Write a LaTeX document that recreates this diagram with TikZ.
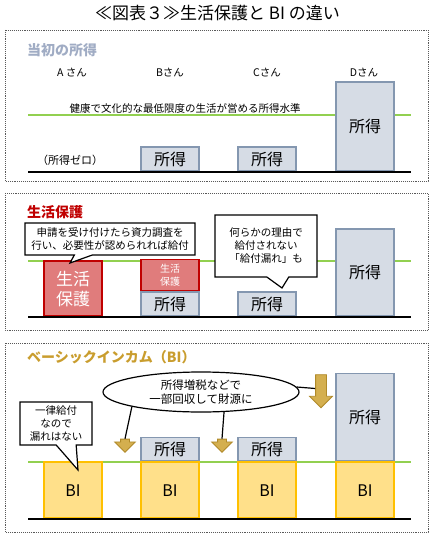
\documentclass[tikz,border=0pt]{standalone}
\usepackage{fontspec}
\setmainfont{Noto Sans CJK JP}
\usetikzlibrary{shapes.geometric, shapes.callouts, shapes.arrows}
\definecolor{incfill}{HTML}{D6DCE5}
\definecolor{incline}{HTML}{8497B0}
\definecolor{protfill}{HTML}{E07C7C}
\definecolor{protline}{HTML}{C00000}
\definecolor{bifill}{HTML}{FFE08A}
\definecolor{biline}{HTML}{FFC000}
\definecolor{level}{HTML}{92D050}
\definecolor{arrfill}{HTML}{D4AF4F}
\definecolor{arrline}{HTML}{B08A2A}
\definecolor{ttlblue}{HTML}{A0ACC4}
\definecolor{ttlgold}{HTML}{C99D2E}
\newcommand\fsz[2]{\fontsize{#1}{#2}\selectfont}

\begin{document}
\begin{tikzpicture}[x=1pt, y=-1pt,
    frame/.style={draw=black!65, densely dotted, line width=0.9pt},
    ttl/.style={anchor=west, font=\fsz{14}{16}\bfseries, inner sep=0},
    bar/.style={line width=1.6pt, minimum width=58pt, inner sep=0, anchor=south, font=\fsz{16}{18}},
    inc/.style={bar, draw=incline, fill=incfill},
    prot/.style={bar, draw=protline, fill=protfill, text=white, align=center},
    bi/.style={bar, draw=biline, fill=bifill},
    lvl/.style={level, line width=2.2pt},
    base/.style={black, line width=1.4pt},
    note/.style={rectangle callout, draw, fill=white, line width=1.2pt, inner sep=0,
                 align=center, font=\fsz{10.5}{13}},
    down/.style={single arrow, shape border rotate=270, draw=arrline, fill=arrfill,
                 line width=0.8pt, inner sep=4pt, single arrow head extend=6pt}]
  \useasboundingbox (0,0) rectangle (435,537);
  \node (title) at (217.5,13) {\fsz{17}{20}≪図表３≫生活保護と BI の違い};

  % 当初の所得
  \draw[frame] (5,30) rectangle (428,181);
  \node[ttl, text=ttlblue] (t1) at (27,50) {当初の所得};
  \node[font=\fsz{10.5}{12}] (whoa) at (72,73) {A さん};
  \node[font=\fsz{10.5}{12}] (whob) at (170,73) {Bさん};
  \node[font=\fsz{10.5}{12}] (whoc) at (267,73) {Cさん};
  \node[font=\fsz{10.5}{12}] (whod) at (364,73) {Dさん};
  \draw[lvl] (28,115) -- (411,115);
  \node[font=\fsz{10.5}{12}] (lvltext) at (185,109) {健康で文化的な最低限度の生活が営める所得水準};
  \node[inc, minimum height=24pt] (i1b) at (170,172) {所得};
  \node[inc, minimum height=24pt] (i1c) at (267,172) {所得};
  \node[inc, minimum height=89pt] (i1d) at (365,172) {所得};
  \node[font=\fsz{11}{13}] (zero) at (70,160) {（所得ゼロ）};
  \draw[base] (28,172) -- (411,172);

  % 生活保護
  \draw[frame] (5,193) rectangle (428,330);
  \node[ttl, text=protline] (t2) at (27,212) {生活保護};
  \draw[lvl] (28,261) -- (411,261);
  \node[prot, minimum height=55pt, font=\fsz{17}{20}] (p2a) at (73,317) {生活\\保護};
  \node[inc, minimum height=24pt] (i2b) at (170,317) {所得};
  \node[prot, minimum height=31pt, font=\fsz{10}{13}] (p2b) at (i2b.north) {生活\\保護};
  \node[inc, minimum height=24pt] (i2c) at (267,317) {所得};
  \node[inc, minimum height=87pt] (i2d) at (365,317) {所得};
  \draw[base] (28,317) -- (411,317);
  \node[note, minimum width=170pt, minimum height=32pt, callout absolute pointer={(70,263)},
        callout pointer width=18pt] (n1) at (110,239) {申請を受け付けたら資力調査を\\行い、必要性が認められれば給付};
  \node[note, minimum width=102pt, minimum height=62pt, callout absolute pointer={(282,288)},
        callout pointer width=22pt] (n2) at (266,246) {何らかの理由で\\給付されない\\「給付漏れ」も};

  % ベーシックインカム
  \draw[frame] (5,343) rectangle (428,532);
  \node[ttl, text=ttlgold] (t3) at (27,357) {ベーシックインカム（BI）};
  \draw[lvl] (28,462) -- (411,462);
  \foreach \x/\n in {73/a, 170/b, 267/c, 365/d}
    \node[bi, minimum height=56pt] (bi\n) at (\x,519) {BI};
  \node[inc, minimum height=23pt] (i3b) at (bib.north) {所得};
  \node[inc, minimum height=23pt] (i3c) at (bic.north) {所得};
  \node[inc, minimum height=87pt] (i3d) at (bid.north) {所得};
  \draw[base] (28,519) -- (411,519);
  \node[ellipse, draw, fill=white, line width=1.2pt, minimum width=196pt, minimum height=40pt,
        inner sep=0, align=center, font=\fsz{11.5}{14}] (ell) at (201,392) {所得増税などで\\一部回収して財源に};
  \node[down, minimum height=13pt] (a1) at (125,443.5) {};
  \node[down, minimum height=13pt] (a2) at (222,443.5) {};
  \node[down, minimum height=33pt, inner sep=5pt] (a3) at (321,388.5) {};
  \draw[line width=1.2pt] (ell.192) -- (a1.tail);
  \draw[line width=1.2pt] (ell.319) -- (a2.tail);
  \draw[line width=1.2pt] (ell.3) -- (a3.west);
  \node[note, minimum width=72pt, minimum height=43pt, callout absolute pointer={(78,470)},
        callout pointer width=20pt] (n3) at (56,423.5) {一律給付\\なので\\漏れはない};
\end{tikzpicture}
\end{document}
